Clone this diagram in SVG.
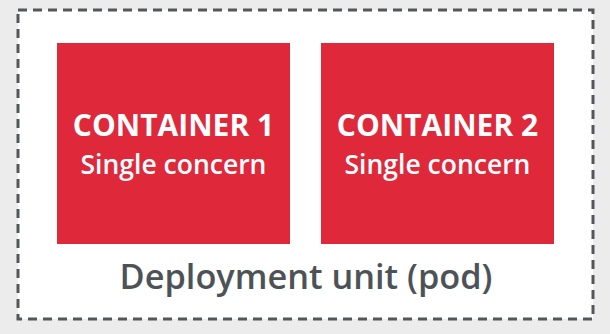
<svg xmlns="http://www.w3.org/2000/svg" width="610" height="334" viewBox="0 0 610 334">
  <style>
    .pod { fill: #ffffff; stroke: #53575b; stroke-width: 3; stroke-dasharray: 9 6; }
    .box { fill: #e0283b; }
    .title { font-family: "Open Sans", "Liberation Sans", sans-serif; font-weight: 700; font-size: 30px; fill: #ffffff; text-anchor: middle; }
    .sub { font-family: "Open Sans", "Liberation Sans", sans-serif; font-weight: 600; font-size: 26.5px; fill: #ffffff; text-anchor: middle; }
    .label { font-family: "Open Sans", "Liberation Sans", sans-serif; font-weight: 600; font-size: 34.3px; fill: #4d5257; text-anchor: middle; }
  </style>
  <rect x="0" y="0" width="610" height="334" fill="#ececec"/>
  <g id="pod">
    <rect class="pod" x="18" y="10" width="575" height="309"/>
    <text class="label" x="306" y="289">Deployment unit (pod)</text>
  </g>
  <g id="container1">
    <rect class="box" x="57" y="43" width="233" height="201"/>
    <text class="title" x="173.5" y="136">CONTAINER 1</text>
    <text class="sub" x="173.5" y="174">Single concern</text>
  </g>
  <g id="container2">
    <rect class="box" x="321" y="43" width="233" height="201"/>
    <text class="title" x="437.5" y="136">CONTAINER 2</text>
    <text class="sub" x="437.5" y="174">Single concern</text>
  </g>
  <g id="connectors"></g>
</svg>
